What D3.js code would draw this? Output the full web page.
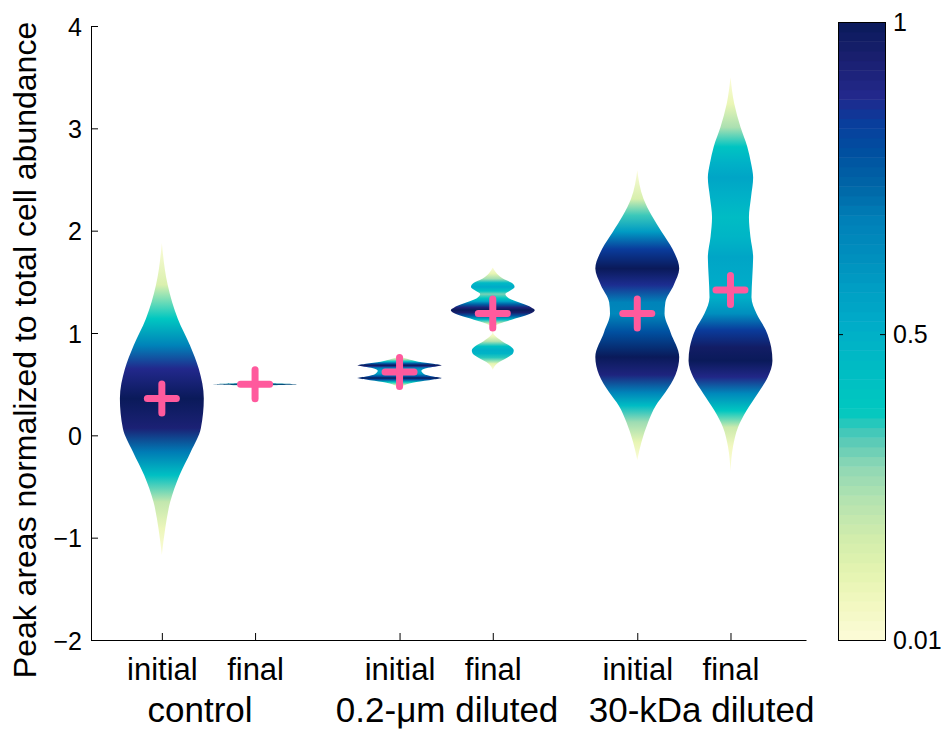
<!DOCTYPE html>
<html>
<head>
<meta charset="utf-8">
<script src="https://cdn.jsdelivr.net/npm/d3@7"></script>
<style>
  body { margin: 0; background: #fff; }
  text { font-family: "Liberation Sans", Arial, Helvetica, sans-serif; fill: #000; }
</style>
</head>
<body>
<div id="chart"></div>
<script>
// categories
var groups = ["control", "0.2-\u03bcm diluted", "30-kDa diluted"];
var sublabels = ["initial", "final", "initial", "final", "initial", "final"];
var xPos = [1, 2, 3.55, 4.55, 6.1, 7.1];
var groupPos = [1.41, 4.06, 6.79];

// means (pink crosses)
var means = [0.36, 0.5, 0.62, 1.19, 1.19, 1.42];

// density profiles: [value, relative density]
var ctrlInitial = [[-1.17, 0], [-0.91, 0.08], [-0.65, 0.2], [-0.39, 0.42], [-0.16, 0.69], [0.07, 0.93],
  [0.36, 1], [0.65, 0.88], [0.88, 0.67], [1.14, 0.38], [1.47, 0.14], [1.88, 0]];
var ctrlFinal = [[0.478, 0], [0.49, 0.45], [0.5, 1], [0.51, 0.45], [0.522, 0]];
var smallInitial = [[0.46, 0], [0.49, 0.12], [0.52, 0.4], [0.545, 0.8], [0.56, 1], [0.575, 0.8],
  [0.6, 0.58], [0.63, 0.52], [0.66, 0.68], [0.675, 0.9], [0.685, 1], [0.7, 0.8], [0.72, 0.45],
  [0.745, 0.2], [0.77, 0]];
var smallFinal = [[0.64, 0], [0.7, 0.1], [0.76, 0.35], [0.8, 0.48], [0.83, 0.5], [0.87, 0.42],
  [0.92, 0.22], [0.97, 0.06], [1.0, 0.01], [1.05, 0.01], [1.09, 0.15], [1.13, 0.45], [1.17, 0.78],
  [1.2, 0.95], [1.225, 1], [1.25, 0.92], [1.28, 0.75], [1.31, 0.55], [1.34, 0.38], [1.38, 0.3],
  [1.41, 0.4], [1.45, 0.52], [1.49, 0.45], [1.53, 0.25], [1.58, 0.1], [1.64, 0]];
var kdaInitial = [[-0.24, 0], [-0.065, 0.1], [0.13, 0.26], [0.29, 0.44], [0.42, 0.67], [0.59, 0.91],
  [0.765, 1], [1.01, 0.79], [1.19, 0.65], [1.3, 0.67], [1.47, 0.87], [1.63, 1], [1.82, 0.84],
  [1.99, 0.58], [2.15, 0.34], [2.31, 0.15], [2.59, 0]];
var kdaFinal = [[-0.35, 0], [-0.11, 0.06], [0.08, 0.18], [0.24, 0.38], [0.41, 0.65], [0.57, 0.89],
  [0.73, 1], [0.86, 0.97], [1.03, 0.84], [1.19, 0.62], [1.35, 0.5], [1.55, 0.52], [1.74, 0.54],
  [1.94, 0.475], [2.13, 0.44], [2.33, 0.49], [2.52, 0.54], [2.66, 0.49], [2.82, 0.4], [3.01, 0.24],
  [3.24, 0.09], [3.5, 0]];
var violins = [ctrlInitial, ctrlFinal, smallInitial, smallFinal, kdaInitial, kdaFinal];

// tick values
var yTicks = [-2, -1, 0, 1, 2, 3, 4];
var cbTicks = [0.01, 0.5, 1];

// colormap (YlGnBu-like)
var cmapStops = [0, 0.06, 0.11, 0.17, 0.22, 0.28, 0.33, 0.37, 0.41, 0.47, 0.52, 0.57, 0.62, 0.68,
  0.73, 0.79, 0.84, 0.88, 0.94, 1];
var cmapColors = ["#fcfcd8", "#f2f8c0", "#e4f4b0", "#d0ecac", "#b8e4b0", "#90d8b4", "#50c8b8", "#00c8c0",
  "#00c2c2", "#00b6c6", "#00aac8", "#009ec4", "#008fbe", "#0080b8", "#0068a8", "#0050a0", "#0a3c9c",
  "#22288c", "#1a2070", "#0a1a5a"];

var svgWidth = 941, svgHeight = 731;
var margin = {top: 26, left: 91};
var plotRight = 806, plotBottom = 640;

var svg = d3.select("#chart").append("svg")
  .attr("width", svgWidth)
  .attr("height", svgHeight);

var x = d3.scaleLinear().domain([0.24, 7.91]).range([margin.left, plotRight]);
var y = d3.scaleLinear().domain([-2, 4]).range([plotBottom, margin.top]);
var color = d3.scaleLinear().domain(cmapStops).range(cmapColors).interpolate(d3.interpolateRgb);
var halfWidth = 0.45; // in x units, for relative density 1

var defs = svg.append("defs");

// violins
violins.forEach(function(prof, i) {
  var pts = prof.slice().sort(function(a, b) { return b[0] - a[0]; });
  var y0 = y(pts[0][0]), y1 = y(pts[pts.length - 1][0]);
  var grad = defs.append("linearGradient")
    .attr("id", "vg" + i)
    .attr("gradientUnits", "userSpaceOnUse")
    .attr("x1", 0).attr("x2", 0)
    .attr("y1", y0).attr("y2", y1);
  grad.selectAll("stop")
    .data(pts)
    .enter().append("stop")
    .attr("offset", d => (y(d[0]) - y0) / (y1 - y0))
    .attr("stop-color", d => color(d[1]));

  var area = d3.area()
    .curve(d3.curveMonotoneY)
    .y(d => y(d[0]))
    .x0(d => x(xPos[i] - halfWidth * d[1]))
    .x1(d => x(xPos[i] + halfWidth * d[1]));

  svg.append("path")
    .datum(pts)
    .attr("d", area)
    .attr("fill", "url(#vg" + i + ")");
});

// mean markers
var plus = svg.append("g");
means.forEach(function(m, i) {
  var cx = x(xPos[i]), cy = y(m);
  plus.append("line").attr("x1", cx - 14.5).attr("x2", cx + 14.5).attr("y1", cy).attr("y2", cy);
  plus.append("line").attr("x1", cx).attr("x2", cx).attr("y1", cy - 14.5).attr("y2", cy + 14.5);
});
plus.selectAll("line")
  .attr("stroke", "#ff5a9d")
  .attr("stroke-width", 7)
  .attr("stroke-linecap", "round");

// axes
var leftAxis = d3.axisLeft(y)
  .tickValues(yTicks)
  .tickFormat(d => d < 0 ? "\u2212" + Math.abs(d) : d)
  .tickSizeInner(-7)
  .tickSizeOuter(0)
  .tickPadding(9);
var gy = svg.append("g")
  .attr("transform", `translate(${margin.left}, 0)`)
  .call(leftAxis);
gy.selectAll("text").attr("font-size", "25px").attr("dy", "0.36em");

var bottomAxis = d3.axisBottom(x)
  .tickValues(xPos)
  .tickFormat((d, i) => sublabels[i])
  .tickSizeInner(-7)
  .tickSizeOuter(0)
  .tickPadding(18);
var gx = svg.append("g")
  .attr("transform", `translate(0, ${plotBottom})`)
  .call(bottomAxis);
gx.selectAll("text").attr("font-size", "31px");

[gx, gy].forEach(function(g) {
  g.select(".domain").attr("stroke", "#000");
  g.selectAll(".tick line").attr("stroke", "#000");
  g.selectAll("text").attr("fill", "#000").attr("font-family", "Liberation Sans, Arial, sans-serif");
});

// group labels
svg.selectAll("text.group")
  .data(groups)
  .enter().append("text")
  .attr("class", "group")
  .attr("x", (d, i) => x(groupPos[i]))
  .attr("y", 722)
  .attr("text-anchor", "middle")
  .attr("font-size", "35px")
  .text(d => d);

// y axis title
svg.append("text")
  .attr("transform", "translate(36, 350) rotate(-90)")
  .attr("text-anchor", "middle")
  .attr("font-size", "32px")
  .text("Peak areas normalized to total cell abundance");

// colorbar
var cbLeft = 838, cbRight = 885, cbTop = 22, cbBottom = 640;
var cy = d3.scaleLinear().domain([0.01, 1]).range([cbBottom, cbTop]);
var nBands = 64;
var bands = d3.range(nBands);
svg.append("g").selectAll("rect")
  .data(bands)
  .enter().append("rect")
  .attr("x", cbLeft)
  .attr("width", cbRight - cbLeft)
  .attr("y", d => cbBottom - (d + 1) * (cbBottom - cbTop) / nBands)
  .attr("height", (cbBottom - cbTop) / nBands + 0.5)
  .attr("fill", d => color((d + 0.5) / nBands));
svg.append("rect")
  .attr("x", cbLeft + 0.5).attr("y", cbTop + 0.5)
  .attr("width", cbRight - cbLeft).attr("height", cbBottom - cbTop)
  .attr("fill", "none").attr("stroke", "#000");

var cbAxis = d3.axisRight(cy).tickValues(cbTicks).tickFormat(d => d).tickSizeInner(-5).tickSizeOuter(0).tickPadding(8);
var gcb = svg.append("g").attr("transform", `translate(${cbRight}, 0)`).call(cbAxis);
gcb.select(".domain").remove();
gcb.selectAll("line").attr("stroke", "#000");
gcb.selectAll("text").attr("font-size", "25px").attr("fill", "#000");
var cbAxisL = d3.axisLeft(cy).tickValues(cbTicks).tickFormat("").tickSizeInner(-5).tickSizeOuter(0);
var gcbl = svg.append("g").attr("transform", `translate(${cbLeft}, 0)`).call(cbAxisL);
gcbl.select(".domain").remove();
gcbl.selectAll("line").attr("stroke", "#000");
</script>
</body>
</html>
